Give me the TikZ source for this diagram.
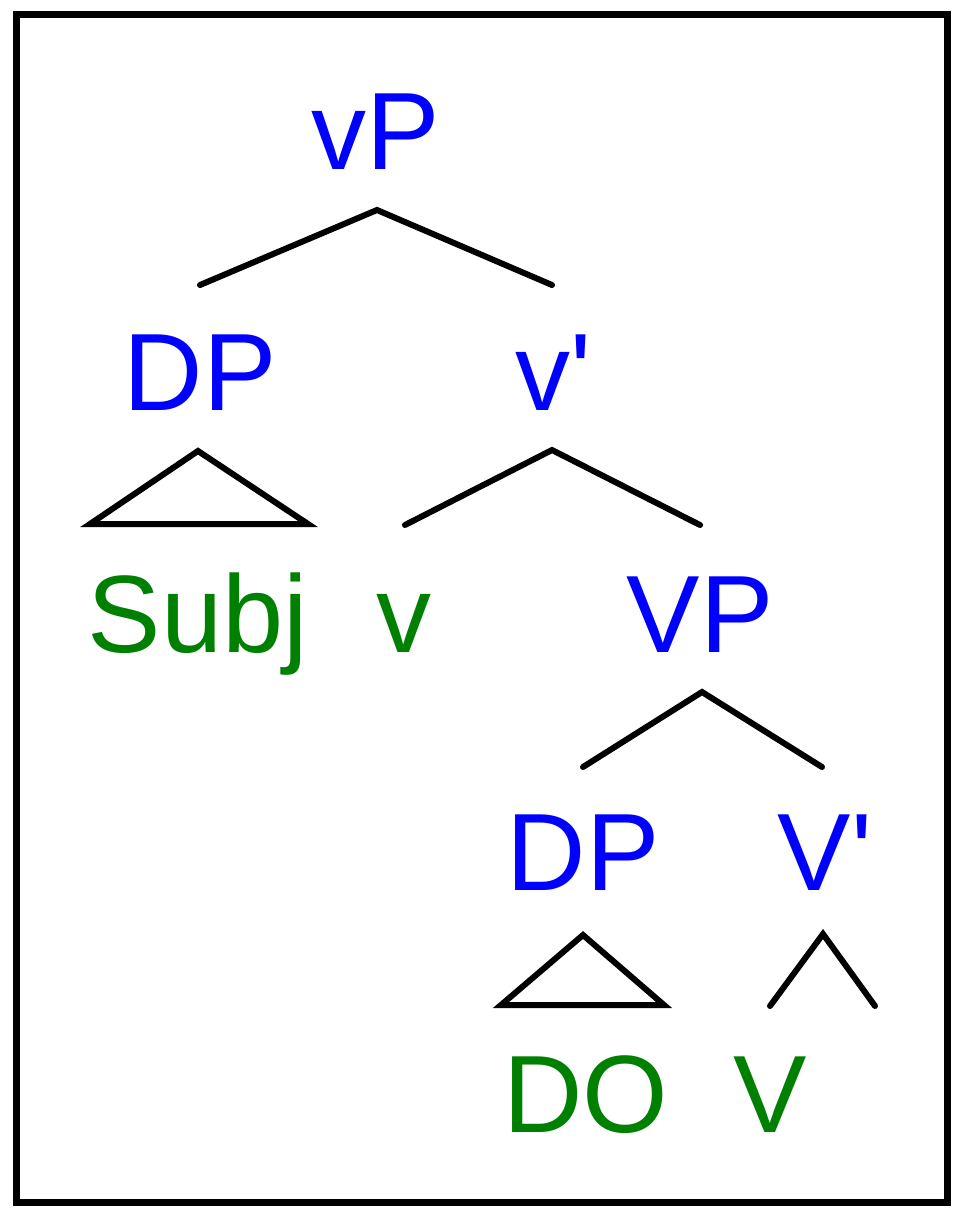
\documentclass[tikz,border=0pt]{standalone}
\usepackage{fontspec}
\setmainfont{Liberation Sans}[Ligatures=TeXOff]
\usetikzlibrary{calc}
\definecolor{catblue}{RGB}{0,0,255}
\definecolor{termgreen}{RGB}{0,128,0}
\tikzset{
  lbl/.style={inner sep=0pt, outer sep=0pt, anchor=base, font=\fontsize{110}{130}\selectfont},
  cat/.style={lbl, text=catblue},
  term/.style={lbl, text=termgreen},
  branch/.style={draw=black, line width=6pt, line cap=round, line join=miter, miter limit=20},
  frame/.style={draw=black, line width=7pt, line join=miter}
}
\begin{document}
\begin{tikzpicture}[x=1pt,y=-1pt]
\useasboundingbox (0,0) rectangle (960,1217);
\fill[white] (0,0) rectangle (960,1217);
\draw[frame] (16.5,15) rectangle (947,1202);

% labels
\node[cat]  (vP)   at (376,170)  {vP};
\node[cat]  (DPa)  at (200,410)  {DP};
\node[cat]  (vbar) at (553,410)  {v\char"27};
\node[term] (Subj) at (198,652)  {Subj};
\node[term] (vlow) at (404,652)  {v};
\node[cat]  (VP)   at (700,652)  {VP};
\node[cat]  (DPb)  at (583,890)  {DP};
\node[cat]  (Vbar) at (825,890)  {V\char"27};
\node[term] (DO)   at (586,1132) {DO};
\node[term] (Vlow) at (770,1132) {V};

% branch points
\coordinate (vPtop)  at (377,210);
\coordinate (vPl)    at (200,285);
\coordinate (vPr)    at (552,285);
\coordinate (vbtop)  at (552,450);
\coordinate (vbl)    at (405,525);
\coordinate (vbr)    at (700,525);
\coordinate (VPtop)  at (702,692);
\coordinate (VPl)    at (583,767);
\coordinate (VPr)    at (822,767);
\coordinate (Vbtop)  at (823,934);
\coordinate (Vbl)    at (770,1006);
\coordinate (Vbr)    at (875,1006);
\coordinate (DPatop) at (198,451);
\coordinate (DPal)   at (90,524);
\coordinate (DPar)   at (308,524);
\coordinate (DPbtop) at (583,935);
\coordinate (DPbl)   at (501,1005);
\coordinate (DPbr)   at (664,1005);

% branches
\draw[branch] (vPl) -- (vPtop) -- (vPr);
\draw[branch] (vbl) -- (vbtop) -- (vbr);
\draw[branch] (VPl) -- (VPtop) -- (VPr);
\draw[branch] (Vbl) -- (Vbtop) -- (Vbr);
\draw[branch] (DPatop) -- (DPal) -- (DPar) -- cycle;
\draw[branch] (DPbtop) -- (DPbl) -- (DPbr) -- cycle;
\end{tikzpicture}
\end{document}
